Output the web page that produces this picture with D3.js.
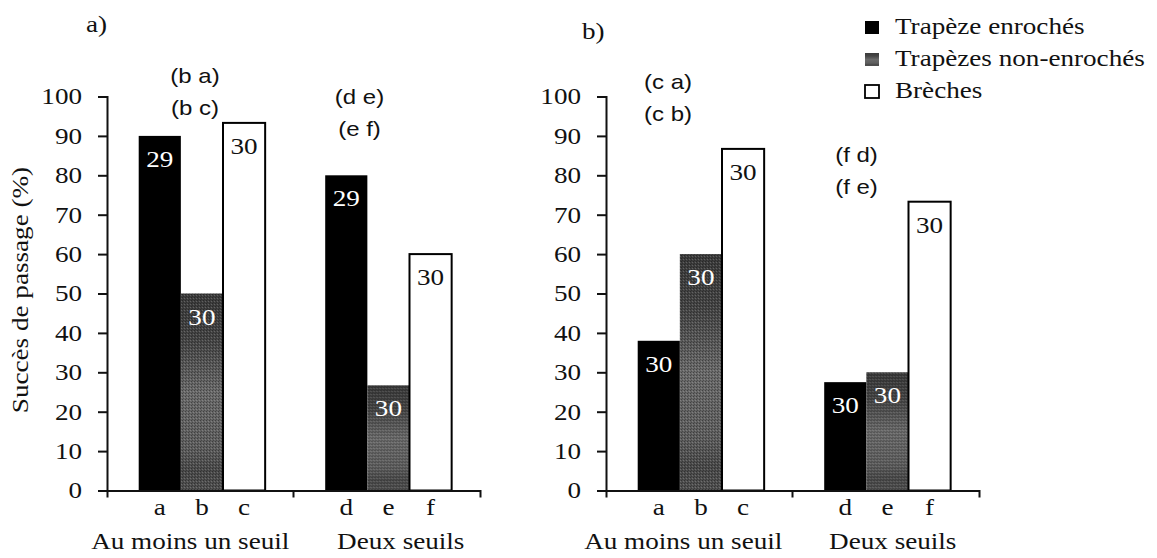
<!DOCTYPE html>
<html>
<head>
<meta charset="utf-8">
<script src="https://cdn.jsdelivr.net/npm/d3@7"></script>
<style>
  html, body { margin: 0; padding: 0; background: #fff; }
  svg { display: block; font-family: "Liberation Serif", serif; }
</style>
</head>
<body>
<svg id="chart" width="1157" height="558"></svg>
<script>
// ---- data ----
const groups = ["Au moins un seuil", "Deux seuils"];
const series = ["Trapèze enrochés", "Trapèzes non-enrochés", "Brèches"];
const barLetters = [["a", "b", "c"], ["d", "e", "f"]];
const yTicks = [0, 10, 20, 30, 40, 50, 60, 70, 80, 90, 100];

// passage success (%) per group, one array per series
const panelAEnroches = [90, 80];
const panelANonEnroches = [50, 26.7];
const panelABreches = [93.3, 60];
const panelACounts = [[29, 30, 30], [29, 30, 30]];

const panelBEnroches = [38, 27.5];
const panelBNonEnroches = [60, 30];
const panelBBreches = [86.7, 73.3];
const panelBCounts = [[30, 30, 30], [30, 30, 30]];

// pairwise comparison notes over each group
const panelANotes = [["(b a)", "(b c)"], ["(d e)", "(e f)"]];
const panelBNotes = [["(c a)", "(c b)"], ["(f d)", "(f e)"]];

// ---- layout ----
const svg = d3.select("#chart");
const SX = 1.18;              // horizontal glyph stretch for the serif text
const SERIF = "Liberation Serif";
const SANS = "Liberation Sans";
const plotTop = 96.5, plotBottom = 490.5, plotWidth = 373;

const defs = svg.append("defs");
const grad = defs.append("linearGradient")
  .attr("id", "grayFill").attr("x1", 0).attr("y1", 0).attr("x2", 0).attr("y2", 1);
[[0, "#3b3b3b"], [0.22, "#444"], [0.5, "#6a6a6a"], [0.78, "#5e5e5e"], [0.9, "#4a4a4a"], [1, "#505050"]]
  .forEach(([o, c]) => grad.append("stop").attr("offset", o).attr("stop-color", c));
// fine dither over the gray bars
const dither = defs.append("pattern").attr("id", "dither")
  .attr("width", 3).attr("height", 3).attr("patternUnits", "userSpaceOnUse");
dither.append("rect").attr("width", 1).attr("height", 1).attr("fill", "#000").attr("opacity", 0.35);
dither.append("rect").attr("x", 2).attr("y", 1).attr("width", 1).attr("height", 1).attr("fill", "#fff").attr("opacity", 0.18);
dither.append("rect").attr("x", 1).attr("y", 2).attr("width", 1).attr("height", 1).attr("fill", "#000").attr("opacity", 0.25);

function stretchedText(parent, x, y, str, opts = {}) {
  const g = parent.append("g").attr("transform", `translate(${x},${y})`);
  return g.append("text")
    .attr("transform", `scale(${opts.sx || SX},1)`)
    .attr("text-anchor", opts.anchor || "middle")
    .style("font-family", opts.family || SERIF)
    .style("font-size", (opts.size || 23) + "px")
    .attr("fill", opts.fill || "#111")
    .text(str);
}

function drawPanel(cfg) {
  const g = svg.append("g").attr("transform", `translate(${cfg.left},0)`);
  const y = d3.scaleLinear().domain([0, 100]).range([plotBottom, plotTop]);
  const x0 = d3.scaleBand().domain(groups).range([0, plotWidth]);
  const bw = x0.bandwidth();
  const x1 = d3.scaleBand().domain(series).range([bw * 0.17, bw * 0.848]);
  const color = d3.scaleOrdinal().domain(series).range(["#000", "url(#grayFill)", "#fff"]);

  const rows = groups.map((grp, gi) => ({
    grp, gi,
    values: series.map((s, si) => ({ s, si, v: cfg.values[si][gi], n: cfg.counts[gi][si], letter: barLetters[gi][si] }))
  }));

  const gg = g.selectAll(".grp").data(rows).join("g")
    .attr("transform", d => `translate(${x0(d.grp)},0)`);

  const bars = gg.selectAll(".bar").data(d => d.values).join("g");
  bars.append("rect")
    .attr("x", d => x1(d.s)).attr("width", x1.bandwidth())
    .attr("y", d => y(d.v)).attr("height", d => y(0) - y(d.v))
    .attr("fill", d => color(d.s))
    .attr("stroke", d => d.si === 2 ? "#000" : "none")
    .attr("stroke-width", 2);
  bars.filter(d => d.si === 1).append("rect")
    .attr("x", d => x1(d.s)).attr("width", x1.bandwidth())
    .attr("y", d => y(d.v)).attr("height", d => y(0) - y(d.v))
    .attr("fill", "url(#dither)");

  // sample size inside each bar, letter under each bar
  bars.each(function (d) {
    stretchedText(d3.select(this), x1(d.s) + x1.bandwidth() / 2, y(d.v) + 31, d.n,
      { fill: d.si === 2 ? "#111" : "#fff" });
    stretchedText(d3.select(this), x1(d.s) + x1.bandwidth() / 2, 515, d.letter);
  });

  // group labels
  rows.forEach(r => {
    stretchedText(g, x0(r.grp) + bw / 2 + cfg.groupDx[r.gi], 549, r.grp);
  });

  // y axis
  const yAxis = g.append("g")
    .call(d3.axisLeft(y).tickValues(yTicks).tickSize(9).tickSizeOuter(9).tickPadding(16));
  yAxis.attr("font-family", null).attr("font-size", null);
  yAxis.selectAll("path, line").attr("stroke", "#111").attr("stroke-width", 2);
  yAxis.selectAll("text")
    .style("font-family", SERIF).style("font-size", "23px").attr("fill", "#111")
    .attr("x", -25 / SX).attr("transform", `scale(${SX},1)`);

  // x axis with ticks at group boundaries
  const xAxis = g.append("g").attr("transform", `translate(0,${plotBottom})`)
    .call(d3.axisBottom(x0).tickSizeInner(0).tickSizeOuter(7).tickFormat(""));
  xAxis.selectAll("path").attr("stroke", "#111").attr("stroke-width", 2);
  xAxis.selectAll(".tick").remove();
  groups.slice(1).forEach(grp => {
    xAxis.append("line").attr("x1", x0(grp)).attr("x2", x0(grp))
      .attr("y1", 0).attr("y2", 7).attr("stroke", "#111").attr("stroke-width", 2);
  });

  // comparison notes
  cfg.notes.forEach((pair, gi) => {
    pair.forEach((txt, li) => {
      stretchedText(g, x0(groups[gi]) + cfg.noteDx[gi], y(cfg.noteY[gi]) + li * 32, txt,
        { family: SANS, size: 20, sx: 1.2 });
    });
  });

  // panel letter
  stretchedText(g, cfg.tagX, cfg.tagY, cfg.tag, { anchor: "start" });
}

drawPanel({
  left: 107, tag: "a)", tagX: -21, tagY: 32,
  values: [panelAEnroches, panelANonEnroches, panelABreches],
  counts: panelACounts, notes: panelANotes,
  noteDx: [88, 66], noteY: [103.4, 98.2],
  groupDx: [-10, 14]
});
drawPanel({
  left: 606, tag: "b)", tagX: -24, tagY: 39,
  values: [panelBEnroches, panelBNonEnroches, panelBBreches],
  counts: panelBCounts, notes: panelBNotes,
  noteDx: [62, 64], noteY: [101.8, 83.3],
  groupDx: [-16, 7]
});

// y axis title
svg.append("text")
  .attr("transform", `translate(28,290) rotate(-90) scale(${SX},1)`)
  .attr("text-anchor", "middle")
  .style("font-family", SERIF).style("font-size", "23px").attr("fill", "#111")
  .text("Succès de passage (%)");

// legend
const legend = svg.append("g").attr("transform", "translate(865,0)");
const swatchFill = ["#000", "url(#grayFill)", "#fff"];
series.forEach((s, i) => {
  const row = legend.append("g").attr("transform", `translate(0,${21 + i * 32})`);
  row.append("rect").attr("width", 14).attr("height", 13)
    .attr("fill", swatchFill[i])
    .attr("stroke", i === 2 ? "#000" : "none").attr("stroke-width", 1.8);
  stretchedText(row, 30, 13, s, { anchor: "start" });
});
</script>
</body>
</html>
